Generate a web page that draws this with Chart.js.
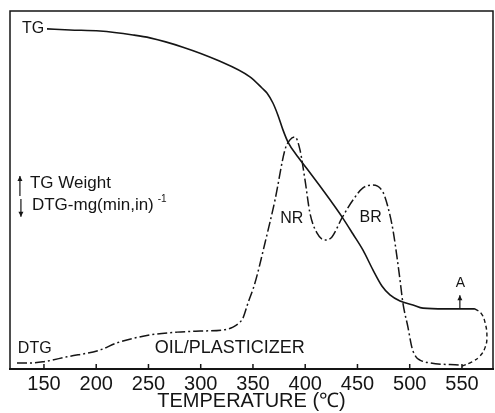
<!DOCTYPE html>
<html><head><meta charset="utf-8">
<script src="https://cdn.jsdelivr.net/npm/chart.js@4.4.1/dist/chart.umd.min.js"></script>
<style>html,body{margin:0;padding:0;background:#fff}#wrap{width:495px;height:413px;position:relative}</style>
</head><body><div id="wrap"><canvas id="c"></canvas></div>
<script>
// x tick labels (temperature, °C)
const tickLabels = [150, 200, 250, 300, 350, 400, 450, 500, 550];
// TG curve (relative weight, arbitrary units 0-100)
const tgTemp  = [152.9, 174.9, 203.6, 235.2, 251.4, 283.0, 315.6, 347.1, 358.6, 363.4, 369.1, 373.9, 378.7, 383.5, 393.1, 402.6, 414.1, 426.6, 435.2, 445.7, 455.3, 464.8, 473.4, 481.1, 490.7, 503.1, 512.7, 533.7, 548.1, 562.4];
const tgValue = [95.0, 94.7, 94.4, 93.3, 92.5, 89.9, 86.3, 81.6, 78.5, 77.1, 74.3, 70.9, 66.8, 63.4, 59.2, 55.6, 51.1, 46.1, 42.5, 37.7, 33.2, 27.7, 23.2, 20.7, 19.0, 17.9, 17.0, 16.8, 16.8, 16.8];
// DTG curve (rate, arbitrary units)
const dtgTemp  = [124.2, 136.6, 149.0, 172.0, 203.6, 219.9, 251.4, 277.3, 299.3, 321.3, 330.9, 337.6, 340.4, 345.2, 351.9, 361.5, 371.1, 380.6, 385.4, 390.2, 395.0, 399.8, 404.5, 411.2, 418.9, 425.6, 435.2, 445.7, 455.3, 464.8, 474.4, 479.2, 484.0, 487.8, 490.7, 493.5, 498.3, 502.2, 506.0, 509.8, 519.4, 548.1];
const dtgValue = [1.7, 1.7, 2.0, 3.4, 5.3, 7.3, 9.5, 10.3, 10.6, 10.9, 11.7, 13.1, 14.2, 18.4, 24.0, 35.2, 47.2, 61.2, 64.0, 64.8, 61.2, 52.8, 43.6, 38.0, 36.0, 36.9, 42.2, 47.2, 50.6, 51.4, 49.4, 45.2, 38.8, 31.3, 24.9, 18.4, 11.7, 5.9, 3.4, 2.5, 1.7, 1.1];
// dashed closing curve "A"
const loopTemp  = [562.4, 568.2, 572.0, 573.9, 572.0, 567.2, 559.6, 550.0];
const loopValue = [16.8, 15.6, 13.1, 8.9, 5.9, 3.6, 2.0, 0.8];
// annotation labels
const labels = [
  {text: 'TG', t: 129, v: 95.0, size: 16},
  {text: 'DTG', t: 125, v: 5.6, size: 16},
  {text: 'OIL/PLASTICIZER', t: 256, v: 5.9, size: 18},
  {text: 'NR', t: 376, v: 41.9, size: 16},
  {text: 'BR', t: 452, v: 42.2, size: 16},
  {text: 'A', t: 544, v: 24.0, size: 14},
  {text: 'TG Weight', t: 136.6, v: 52.0, size: 17},
  {text: 'DTG-mg(min,in)', t: 138.5, v: 45.8, size: 17}
];

const pts = (xs, ys) => xs.map((x, i) => ({x, y: ys[i]}));
const INK = '#151515';
const FONT = "'Liberation Sans', Arial, sans-serif";
const NARROW = "'Liberation Sans Narrow', 'Liberation Sans', Arial, sans-serif";

const annot = {
  id: 'annot',
  afterDatasetsDraw(chart) {
    const {ctx, chartArea: a, scales: {x, y}} = chart;
    ctx.save();
    ctx.strokeStyle = INK; ctx.fillStyle = INK; ctx.lineWidth = 1.5;
    ctx.beginPath();
    ctx.moveTo(a.left, a.bottom); ctx.lineTo(a.left, a.top);
    ctx.lineTo(a.right, a.top); ctx.lineTo(a.right, a.bottom);
    ctx.stroke();
    // inward tick marks
    tickLabels.forEach(t => {
      const px = x.getPixelForValue(t);
      ctx.beginPath(); ctx.moveTo(px, a.bottom); ctx.lineTo(px, a.bottom - 5); ctx.stroke();
    });
    // labels
    ctx.textBaseline = 'middle'; ctx.textAlign = 'left';
    labels.forEach(l => {
      ctx.font = l.size + 'px ' + FONT;
      ctx.fillText(l.text, x.getPixelForValue(l.t), y.getPixelForValue(l.v));
    });
    // superscript -1
    const dl = labels[7];
    ctx.font = dl.size + 'px ' + FONT;
    const w = ctx.measureText(dl.text).width;
    ctx.font = '10px ' + FONT;
    ctx.fillText('-1', x.getPixelForValue(dl.t) + w + 4, y.getPixelForValue(dl.v) - 6);
    // legend arrows
    const ax = x.getPixelForValue(127);
    ctx.lineWidth = 1.2;
    const arrow = (x0, y0, y1) => {
      ctx.beginPath(); ctx.moveTo(x0, y0); ctx.lineTo(x0, y1); ctx.stroke();
      const d = y1 < y0 ? 1 : -1;
      ctx.beginPath(); ctx.moveTo(x0, y1); ctx.lineTo(x0 - 2.5, y1 + d * 5); ctx.lineTo(x0 + 2.5, y1 + d * 5); ctx.closePath(); ctx.fill();
    };
    arrow(ax, y.getPixelForValue(48.3), y.getPixelForValue(53.9));
    arrow(ax + 1, y.getPixelForValue(47.5), y.getPixelForValue(42.5));
    // arrow at A
    arrow(x.getPixelForValue(548), y.getPixelForValue(16.8), y.getPixelForValue(20.6));
    ctx.restore();
  }
};

new Chart(document.getElementById('c'), {
  type: 'line',
  data: {
    datasets: [
      {label: 'TG', data: pts(tgTemp, tgValue), borderColor: INK, borderWidth: 1.6, pointRadius: 0, cubicInterpolationMode: 'monotone', fill: false},
      {label: 'DTG', data: pts(dtgTemp, dtgValue), borderColor: INK, borderWidth: 1.5, borderDash: [10, 3, 2, 3], pointRadius: 0, cubicInterpolationMode: 'monotone', fill: false},
      {label: 'A', data: pts(loopTemp, loopValue), borderColor: INK, borderWidth: 1.4, borderDash: [4, 3], pointRadius: 0, tension: 0.45, fill: false}
    ]
  },
  options: {
    responsive: true, maintainAspectRatio: false, animation: false, devicePixelRatio: 1,
    layout: {padding: {left: 10, top: 11, right: 2, bottom: 0}},
    plugins: {legend: {display: false}, tooltip: {enabled: false}},
    scales: {
      x: {
        type: 'linear', min: 117.5, max: 579.7,
        afterBuildTicks: s => { s.ticks = tickLabels.map(v => ({value: v})); },
        afterFit: s => { s.height = 44; },
        grid: {display: false, drawTicks: false},
        border: {display: true, color: INK, width: 2},
        ticks: {color: INK, padding: 3, maxRotation: 0, autoSkip: false, font: {family: NARROW, size: 20}},
        title: {display: true, text: 'TEMPERATURE (℃)', color: INK, padding: {top: 0, bottom: 0}, font: {family: NARROW, size: 20}}
      },
      y: {type: 'linear', min: 0, max: 100, display: false}
    }
  },
  plugins: [annot]
});
</script>
</body></html>
